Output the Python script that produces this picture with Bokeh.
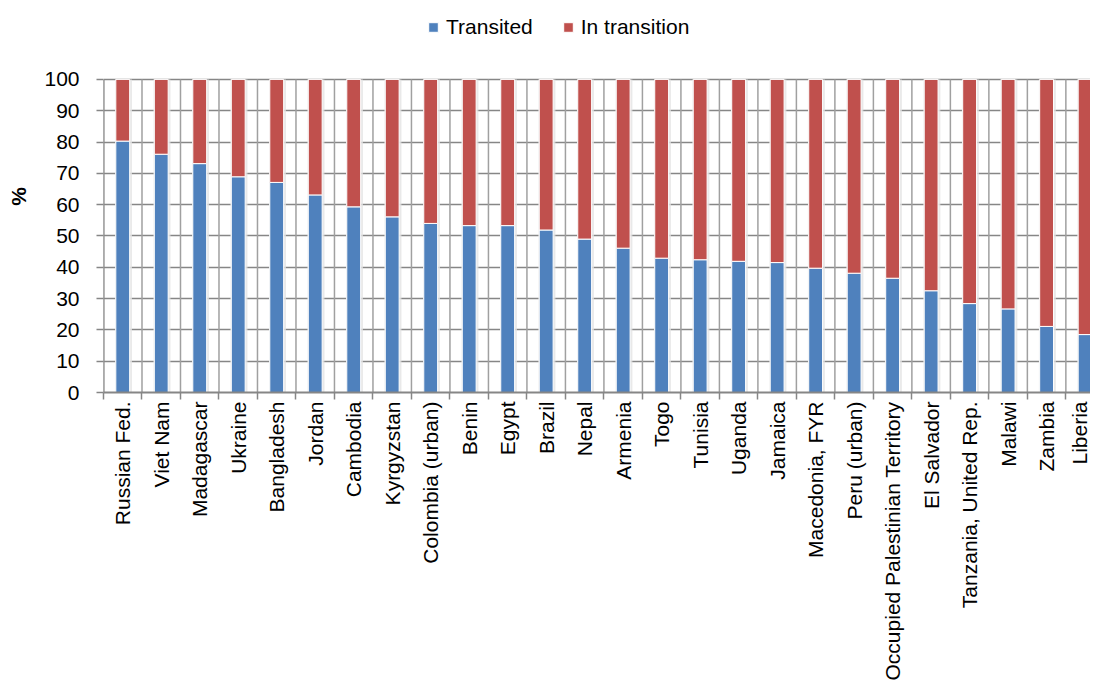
import math
from bokeh.plotting import figure
from bokeh.models import FixedTicker, ColumnDataSource, Legend, LegendItem, Range1d
from bokeh.transform import dodge
from bokeh.embed import file_html
from bokeh.resources import INLINE

countries = ["Russian Fed.", "Viet Nam", "Madagascar", "Ukraine", "Bangladesh", "Jordan",
             "Cambodia", "Kyrgyzstan", "Colombia (urban)", "Benin", "Egypt", "Brazil", "Nepal",
             "Armenia", "Togo", "Tunisia", "Uganda", "Jamaica", "Macedonia, FYR", "Peru (urban)",
             "Occupied Palestinian Territory", "El Salvador", "Tanzania, United Rep.", "Malawi",
             "Zambia", "Liberia"]
transited = [80.3, 76.1, 73.1, 68.9, 67.1, 63.1, 59.3, 56.1, 54.0, 53.3, 53.3, 51.9, 49.0,
             46.1, 42.9, 42.4, 41.9, 41.5, 39.7, 38.1, 36.5, 32.5, 28.4, 26.7, 21.1, 18.5]
in_transition = [round(100 - t, 1) for t in transited]
yticks = [0, 10, 20, 30, 40, 50, 60, 70, 80, 90, 100]

FONT = "Liberation Sans"
BLUE = "#4F81BD"
RED = "#C0504D"
GRID = "#868686"

n = len(countries)
xs = list(range(n))
src = ColumnDataSource(dict(x=xs, t=transited, r=in_transition,
                            top2=[a + b for a, b in zip(transited, in_transition)]))
boundaries = [i - 0.5 for i in range(n + 1)]
ymax = max(yticks)

p = figure(width=1090, height=683, output_backend="svg", toolbar_location=None,
           x_range=Range1d(-0.5, 25.14), y_range=Range1d(0, 125.2),
           min_border_left=103, min_border_right=0, min_border_top=0, min_border_bottom=0)
p.outline_line_color = None

# vertical separators between categories (only up to 100)
p.segment(x0=boundaries, x1=boundaries, y0=[0] * len(boundaries), y1=[ymax] * len(boundaries),
          line_color="#a0a0a0", line_width=1.5)

# soft shadow behind bars
p.vbar(x=dodge("x", 0.02), top="top2", bottom=0, width=0.44, source=src,
       fill_color="#e4e4e4", fill_alpha=0.8, line_color=None)

b1 = p.vbar(x="x", top="t", bottom=0, width=0.36, source=src, fill_color=BLUE,
            line_color="white", line_width=1)
b2 = p.vbar(x="x", top="top2", bottom="t", width=0.36, source=src, fill_color=RED,
            line_color="white", line_width=1)

# y axis line from 0 to 100
p.segment(x0=[-0.5], x1=[-0.5], y0=[0], y1=[ymax], line_color=GRID, line_width=2)

p.xaxis.ticker = FixedTicker(ticks=xs, minor_ticks=boundaries)
p.xaxis.major_label_overrides = {i: c for i, c in enumerate(countries)}
p.xaxis.major_label_orientation = math.pi / 2
p.xaxis.major_tick_out = 0
p.xaxis.major_tick_in = 0
p.xaxis.minor_tick_out = 7
p.xaxis.minor_tick_in = 0
p.xaxis.minor_tick_line_color = GRID
p.xaxis.minor_tick_line_width = 1.5
p.xaxis.axis_line_color = GRID
p.xaxis.axis_line_width = 2
p.xaxis.major_label_text_font = FONT
p.xaxis.major_label_text_font_size = "21px"
p.xaxis.major_label_text_color = "black"
p.xaxis.major_label_standoff = 2

p.xgrid.grid_line_color = None

p.yaxis.ticker = FixedTicker(ticks=yticks)
p.yaxis.major_tick_out = 7
p.yaxis.major_tick_in = 0
p.yaxis.minor_tick_line_color = None
p.yaxis.major_tick_line_color = GRID
p.yaxis.major_tick_line_width = 1.5
p.yaxis.axis_line_color = None
p.yaxis.major_label_text_font = FONT
p.yaxis.major_label_text_font_size = "21px"
p.yaxis.major_label_text_color = "black"
p.yaxis.major_label_standoff = 17
p.yaxis.axis_label = "%"
p.yaxis.axis_label_text_font = FONT
p.yaxis.axis_label_text_font_size = "21px"
p.yaxis.axis_label_text_font_style = "bold"
p.yaxis.axis_label_text_color = "black"
p.yaxis.axis_label_standoff = 11

p.ygrid.grid_line_color = GRID
p.ygrid.grid_line_width = 1.5

legend = Legend(items=[LegendItem(label="Transited", renderers=[b1]),
                       LegendItem(label="In transition", renderers=[b2])],
                orientation="horizontal", location=(324, 353),
                label_text_font=FONT, label_text_font_size="21px", label_text_color="black",
                glyph_width=12, glyph_height=12, spacing=29, border_line_color=None,
                background_fill_alpha=0, margin=0, padding=4, label_standoff=7)
p.add_layout(legend)

open("out.html", "w").write(file_html(p, INLINE))
